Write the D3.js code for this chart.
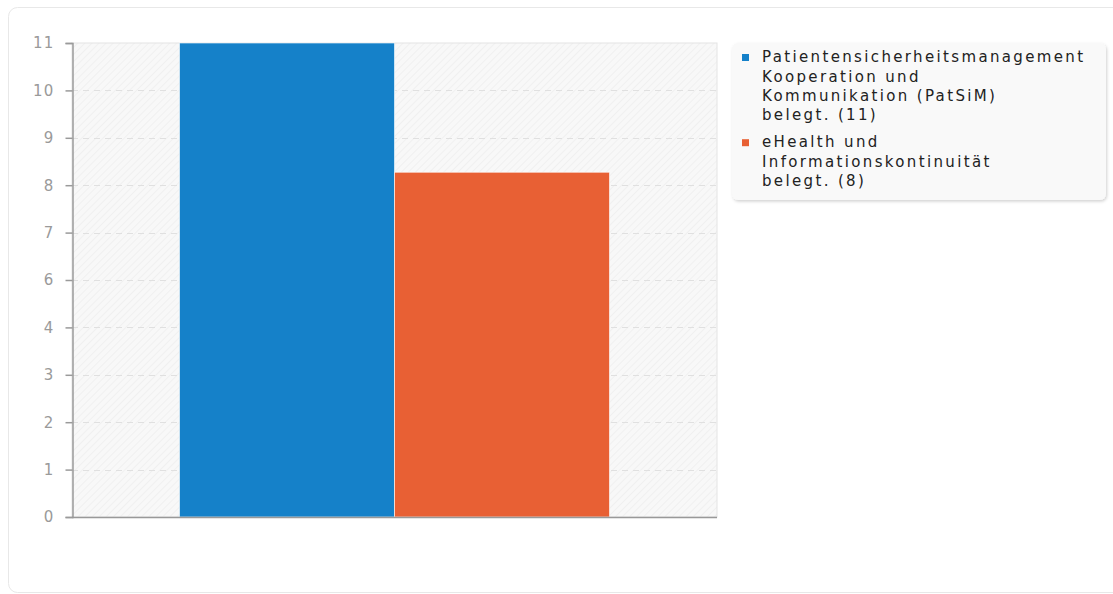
<!DOCTYPE html>
<html><head><meta charset="utf-8">
<script src="https://cdn.jsdelivr.net/npm/d3@7"></script>
<style>
html,body{margin:0;padding:0;background:#fff;}
svg{display:block;font-family:"DejaVu Sans",sans-serif;}
</style></head>
<body>
<svg id="chart" width="1113" height="594"></svg>
<script>
const categories = ["Patientensicherheitsmanagement Kooperation und Kommunikation (PatSiM)", "eHealth und Informationskontinuität"];
const values = [11, 8];
const legendLines = [
  ["Patientensicherheitsmanagement", "Kooperation und", "Kommunikation (PatSiM)", "belegt. (11)"],
  ["eHealth und", "Informationskontinuität", "belegt. (8)"]
];
const colors = ["#1581c9", "#e86034"];
const yTickValues = [0, 1.1, 2.2, 3.3, 4.4, 5.5, 6.6, 7.7, 8.8, 9.9, 11];
const yTickLabels = ["0", "1", "2", "3", "4", "6", "7", "8", "9", "10", "11"];

const svg = d3.select("#chart");
const defs = svg.append("defs");
const pat = defs.append("pattern").attr("id","hatch").attr("patternUnits","userSpaceOnUse")
  .attr("width",5).attr("height",5).attr("patternTransform","rotate(45)");
pat.append("rect").attr("width",5).attr("height",5).attr("fill","#f8f8f8");
pat.append("line").attr("x1",0).attr("y1",0).attr("x2",0).attr("y2",5).attr("stroke","#ededed").attr("stroke-width",1.4);
const flt = defs.append("filter").attr("id","shadow").attr("x","-5%").attr("y","-5%").attr("width","115%").attr("height","120%");
flt.append("feDropShadow").attr("dx",1).attr("dy",1.5).attr("stdDeviation",1.5).attr("flood-color","#000").attr("flood-opacity",0.18);

// card
svg.append("rect").attr("x",8.5).attr("y",7.5).attr("width",1130).attr("height",585).attr("rx",9)
  .attr("fill","#fff").attr("stroke","#e8e8e8");

const m = {left:72, top:43, right:717, bottom:517};
const y = d3.scaleLinear().domain([0,11]).range([m.bottom, m.top]);
const x0 = d3.scaleBand().domain(["g"]).range([m.left, m.right]).paddingInner(0).paddingOuter(0.25);
const x1 = d3.scaleBand().domain(categories).range([0, x0.bandwidth()]);

svg.append("rect").attr("x",m.left).attr("y",m.top).attr("width",m.right-m.left).attr("height",m.bottom-m.top)
  .attr("fill","url(#hatch)").attr("stroke","#e4e4e4");

// grid
svg.append("g").selectAll("line").data(yTickValues.filter(d=>d>0&&d<11)).join("line")
  .attr("x1",m.left).attr("x2",m.right).attr("y1",d=>Math.round(y(d))+0.5).attr("y2",d=>Math.round(y(d))+0.5)
  .attr("stroke","#e0e0e0").attr("stroke-dasharray","6,5");

// bars
svg.append("g").attr("transform",`translate(${x0("g")},0)`).selectAll("rect").data(values).join("rect")
  .attr("x",(d,i)=>x1(categories[i])).attr("y",d=>y(d)).attr("width",x1.bandwidth()).attr("height",d=>y(0)-y(d))
  .attr("fill",(d,i)=>colors[i]).attr("stroke","#fff").attr("stroke-opacity",0.6).attr("stroke-width",1);

// axes
const ax = svg.append("g").attr("transform",`translate(${m.left+0.5},0)`)
  .call(d3.axisLeft(y).tickValues(yTickValues).tickSize(7).tickPadding(11)
    .tickFormat((d,i)=>yTickLabels[i]));
ax.select(".domain").attr("stroke","#9a9a9a").attr("stroke-width",1.5);
ax.selectAll(".tick line").attr("stroke","#9a9a9a").attr("stroke-width",1.5);
ax.selectAll("text").attr("fill","#9a9a9a").attr("font-size",15).attr("letter-spacing",1.2).attr("font-family","DejaVu Sans");
svg.append("line").attr("x1",m.left).attr("x2",m.right).attr("y1",m.bottom+0.5).attr("y2",m.bottom+0.5)
  .attr("stroke","#999").attr("stroke-width",1.5);

// legend
const lg = svg.append("g");
lg.append("rect").attr("x",732).attr("y",43).attr("width",374).attr("height",157).attr("rx",6)
  .attr("fill","#f9f9f9").attr("filter","url(#shadow)");
let ly = 57;
legendLines.forEach((lines,i)=>{
  lg.append("rect").attr("x",742).attr("y",ly-3).attr("width",7).attr("height",7).attr("fill",colors[i]);
  lines.forEach((t,j)=>{
    lg.append("text").attr("x",762).attr("y",ly+j*19.3).attr("dy","0.35em").attr("font-size",15)
      .attr("letter-spacing",2.35).attr("fill","#222").text(t);
  });
  ly += lines.length*19.3 + 8;
});
</script>
</body></html>
